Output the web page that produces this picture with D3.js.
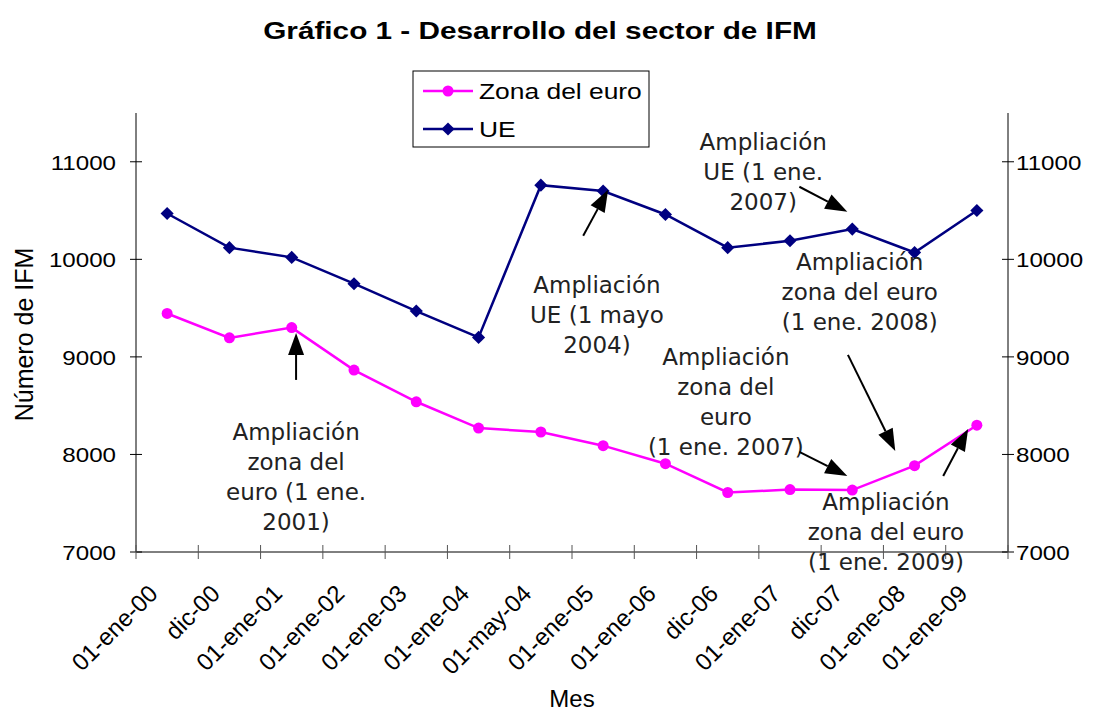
<!DOCTYPE html>
<html lang="es">
<head>
<meta charset="UTF-8">
<title>Gráfico 1 - Desarrollo del sector de IFM</title>
<script src="https://d3js.org/d3.v7.min.js"></script>
<style>
    body { margin: 0; background: #fff; }
    .axis-text { font-family: "Liberation Sans", Arial, sans-serif; font-size: 21px; fill: #000; }
    .note { font-family: "DejaVu Sans", sans-serif; font-size: 23px; fill: #222; text-anchor: middle; }
</style>
</head>
<body>
<svg id="chart" width="1093" height="711"></svg>
<script>
// months on the x axis
const months = ["01-ene-00", "dic-00", "01-ene-01", "01-ene-02", "01-ene-03", "01-ene-04",
    "01-may-04", "01-ene-05", "01-ene-06", "dic-06", "01-ene-07", "dic-07", "01-ene-08", "01-ene-09"];

// number of MFIs
const zonaEuro = [9445, 9195, 9300, 8865, 8540, 8270, 8230, 8090, 7905, 7610, 7640, 7635, 7885, 8300];
const ue = [10470, 10120, 10020, 9750, 9470, 9200, 10760, 10700, 10460, 10120, 10190, 10310, 10070, 10500];

const yTicks = [7000, 8000, 9000, 10000, 11000];

// annotations: text lines, text anchor (category index, value), arrow tail -> tip
const notes = [
    { lines: ["Ampliación", "zona del", "euro (1 ene.", "2001)"], at: [2.07, 8149], from: [2.07, 8764], to: [2.07, 9246] },
    { lines: ["Ampliación", "UE (1 mayo", "2004)"], at: [6.90, 9656], from: [6.68, 10241], to: [7.08, 10713] },
    { lines: ["Ampliación", "UE (1 ene.", "2007)"], at: [9.57, 11123], from: [10.15, 10744], to: [10.92, 10487] },
    { lines: ["Ampliación", "zona del euro", "(1 ene. 2008)"], at: [11.12, 9892], from: [10.93, 9021], to: [11.69, 8036] },
    { lines: ["Ampliación", "zona del", "euro", "(1 ene. 2007)"], at: [8.97, 8918], from: [10.15, 8026], to: [10.92, 7779] },
    { lines: ["Ampliación", "zona del euro", "(1 ene. 2009)"], at: [11.54, 7431], from: [12.46, 7779], to: [12.86, 8262] }
];

const svg = d3.select("#chart");
const plotLeft = 136, plotRight = 1008, plotTop = 113, plotBottom = 552;

const x = d3.scaleBand().domain(months).range([plotLeft, plotRight]).padding(0);
const y = d3.scaleLinear().domain([7000, 11500]).range([plotBottom, plotTop]);
const xc = i => x.range()[0] + (i + 0.5) * x.step();

// title (source text is slightly stretched horizontally)
svg.append("text")
    .attr("transform", "translate(540,39) scale(1.24,1)")
    .attr("text-anchor", "middle")
    .style("font-family", "Liberation Sans, Arial, sans-serif")
    .style("font-size", "24px").style("font-weight", "bold")
    .text("Gráfico 1 - Desarrollo del sector de IFM");

// axes lines
const axisG = svg.append("g").attr("stroke", "#000").attr("stroke-width", 1);
axisG.append("line").attr("x1", plotLeft).attr("x2", plotRight).attr("y1", y(7000)).attr("y2", y(7000));
axisG.append("line").attr("x1", plotLeft).attr("x2", plotLeft).attr("y1", y(11500)).attr("y2", y(7000));
axisG.append("line").attr("x1", plotRight).attr("x2", plotRight).attr("y1", y(11500)).attr("y2", y(7000));

// y ticks both sides
yTicks.forEach(t => {
    [plotLeft, plotRight].forEach(ax => {
        axisG.append("line").attr("x1", ax - 6).attr("x2", ax + 6).attr("y1", y(t)).attr("y2", y(t));
    });
    svg.append("text").attr("class", "axis-text")
        .attr("transform", `translate(${plotLeft - 20},${y(t) + 8}) scale(1.15,1)`)
        .attr("text-anchor", "end").text(t);
    svg.append("text").attr("class", "axis-text")
        .attr("transform", `translate(${plotRight + 8},${y(t) + 8}) scale(1.15,1)`)
        .attr("text-anchor", "start").text(t);
});

// x ticks between categories
months.concat([null]).forEach((m, i) => {
    const px = x.range()[0] + i * x.step();
    axisG.append("line").attr("stroke", "#555")
        .attr("x1", px).attr("x2", px).attr("y1", plotBottom - 7).attr("y2", plotBottom + 7);
});
months.forEach((m, i) => {
    const px = x(m) + x.bandwidth() / 2;
    svg.append("text").attr("class", "axis-text")
        .style("font-size", "24px")
        .attr("text-anchor", "end")
        .attr("transform", `translate(${px - 8},${plotBottom + 43}) rotate(-45)`)
        .text(m);
});

// axis titles
svg.append("text").attr("class", "axis-text")
    .style("font-size", "25px")
    .attr("transform", `translate(33,${(plotTop + plotBottom) / 2 + 2}) rotate(-90)`)
    .attr("text-anchor", "middle").text("Número de IFM");
svg.append("text").attr("class", "axis-text")
    .style("font-size", "24px")
    .attr("x", 572).attr("y", 707).attr("text-anchor", "middle").text("Mes");

// series
const line = d3.line().x((d, i) => x(months[i]) + x.bandwidth() / 2).y(d => y(d));

svg.append("path").datum(ue)
    .attr("fill", "none").attr("stroke", "#000080").attr("stroke-width", 2.5).attr("d", line);
svg.append("path").datum(zonaEuro)
    .attr("fill", "none").attr("stroke", "#FF00FF").attr("stroke-width", 2.5).attr("d", line);

const diamond = d3.symbol().type(d3.symbolDiamond2).size(110);
svg.selectAll(".ue-pt").data(ue).enter().append("path")
    .attr("class", "ue-pt")
    .attr("transform", (d, i) => `translate(${x(months[i]) + x.bandwidth() / 2},${y(d)})`)
    .attr("d", diamond).attr("fill", "#000080");
svg.selectAll(".ze-pt").data(zonaEuro).enter().append("circle")
    .attr("class", "ze-pt")
    .attr("cx", (d, i) => x(months[i]) + x.bandwidth() / 2)
    .attr("cy", d => y(d)).attr("r", 5.5).attr("fill", "#FF00FF");

// annotations
function arrow(x1, y1, x2, y2) {
    const ang = Math.atan2(y2 - y1, x2 - x1);
    const len = 22, hw = 8;
    const bx = x2 - len * Math.cos(ang), by = y2 - len * Math.sin(ang);
    const g = svg.append("g");
    g.append("line").attr("x1", x1).attr("y1", y1).attr("x2", bx).attr("y2", by)
        .attr("stroke", "#000").attr("stroke-width", 2);
    const p = [[x2, y2],
        [bx + hw * Math.sin(ang), by - hw * Math.cos(ang)],
        [bx - hw * Math.sin(ang), by + hw * Math.cos(ang)]];
    g.append("path").attr("d", "M" + p.join("L") + "Z").attr("fill", "#000");
}

notes.forEach(n => {
    const t = svg.append("text").attr("class", "note")
        .attr("x", xc(n.at[0])).attr("y", y(n.at[1]));
    n.lines.forEach((l, k) => {
        t.append("tspan").attr("x", xc(n.at[0])).attr("dy", k === 0 ? 0 : 30).text(l);
    });
    arrow(xc(n.from[0]), y(n.from[1]), xc(n.to[0]), y(n.to[1]));
});

// legend
const lg = svg.append("g");
lg.append("rect").attr("x", 413).attr("y", 71).attr("width", 236).attr("height", 76)
    .attr("fill", "#fff").attr("stroke", "#000").attr("stroke-width", 1);
const legendItems = [
    { name: "Zona del euro", color: "#FF00FF", shape: "circle", cy: 91 },
    { name: "UE", color: "#000080", shape: "diamond", cy: 129 }
];
legendItems.forEach(it => {
    lg.append("line").attr("x1", 423).attr("x2", 473).attr("y1", it.cy).attr("y2", it.cy)
        .attr("stroke", it.color).attr("stroke-width", 2.5);
    if (it.shape === "circle") {
        lg.append("circle").attr("cx", 448).attr("cy", it.cy).attr("r", 5.5).attr("fill", it.color);
    } else {
        lg.append("path").attr("transform", `translate(448,${it.cy})`).attr("d", diamond).attr("fill", it.color);
    }
    lg.append("text").attr("class", "axis-text")
        .style("font-size", "22px")
        .attr("transform", `translate(479,${it.cy + 8}) scale(1.2,1)`)
        .text(it.name);
});
</script>
</body>
</html>
